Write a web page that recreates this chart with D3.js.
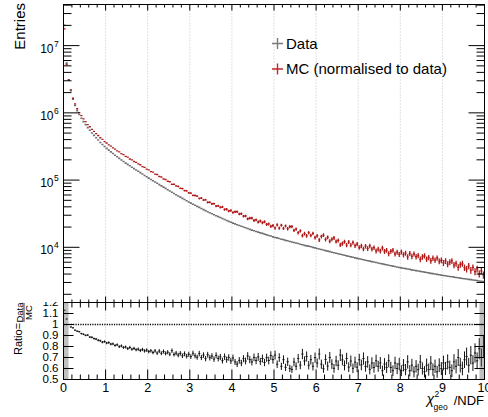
<!DOCTYPE html>
<html>
<head>
<meta charset="utf-8">
<script src="https://cdn.jsdelivr.net/npm/d3@7/dist/d3.min.js"></script>
<style>
body { margin: 0; background: #fff; }
svg { display: block; font-family: "Liberation Sans", Arial, Helvetica, sans-serif; }
</style>
</head>
<body>
<div id="chart"></div>
<script>
// 200 bins of width 0.05 in chi2_geo/NDF
var binLo = 0, binHi = 10, nBins = 200;

var dataCounts = [
2.00e7, 5.50e6, 3.09e6, 2.14e6, 1.60e6, 1.29e6, 1.08e6, 9.44e5, 8.32e5, 7.41e5,
6.68e5, 6.03e5, 5.50e5, 5.01e5, 4.62e5, 4.27e5, 3.94e5, 3.63e5, 3.39e5, 3.16e5,
2.96e5, 2.79e5, 2.63e5, 2.48e5, 2.34e5, 2.22e5, 2.10e5, 1.99e5, 1.89e5, 1.79e5,
1.71e5, 1.63e5, 1.55e5, 1.48e5, 1.41e5, 1.35e5, 1.29e5, 1.23e5, 1.17e5, 1.12e5,
1.07e5, 1.02e5, 9.77e4, 9.35e4, 8.95e4, 8.57e4, 8.20e4, 7.85e4, 7.52e4, 7.19e4,
6.89e4, 6.59e4, 6.31e4, 6.05e4, 5.81e4, 5.57e4, 5.35e4, 5.13e4, 4.92e4, 4.72e4,
4.54e4, 4.38e4, 4.22e4, 4.06e4, 3.92e4, 3.78e4, 3.64e4, 3.51e4, 3.38e4, 3.26e4,
3.15e4, 3.05e4, 2.95e4, 2.86e4, 2.77e4, 2.68e4, 2.59e4, 2.51e4, 2.43e4, 2.36e4,
2.29e4, 2.23e4, 2.17e4, 2.11e4, 2.06e4, 2.00e4, 1.95e4, 1.90e4, 1.85e4, 1.80e4,
1.76e4, 1.72e4, 1.68e4, 1.64e4, 1.61e4, 1.57e4, 1.53e4, 1.50e4, 1.47e4, 1.43e4,
1.40e4, 1.38e4, 1.35e4, 1.32e4, 1.30e4, 1.27e4, 1.25e4, 1.22e4, 1.20e4, 1.18e4,
1.16e4, 1.14e4, 1.11e4, 1.09e4, 1.07e4, 1.05e4, 1.04e4, 1.02e4, 9980, 9790,
9620, 9440, 9270, 9100, 8930, 8770, 8610, 8450, 8300, 8150,
8000, 7870, 7730, 7600, 7460, 7350, 7210, 7100, 6970, 6850,
6750, 6640, 6530, 6430, 6320, 6220, 6120, 6030, 5930, 5830,
5740, 5660, 5570, 5500, 5410, 5330, 5250, 5180, 5090, 5020,
4950, 4890, 4820, 4750, 4690, 4620, 4560, 4500, 4440, 4380,
4320, 4270, 4210, 4160, 4100, 4060, 4000, 3950, 3900, 3850,
3810, 3770, 3720, 3680, 3640, 3600, 3560, 3520, 3480, 3440,
3400, 3370, 3330, 3300, 3260, 3230, 3190, 3160, 3130, 3100
];

var mcCounts = [
1.77e7, 5.24e6, 3.09e6, 2.19e6, 1.65e6, 1.36e6, 1.15e6, 1.01e6, 9.07e5, 8.13e5,
7.41e5, 6.67e5, 6.21e5, 5.67e5, 5.30e5, 4.92e5, 4.60e5, 4.26e5, 4.04e5, 3.74e5,
3.56e5, 3.34e5, 3.20e5, 3.01e5, 2.89e5, 2.72e5, 2.63e5, 2.47e5, 2.39e5, 2.25e5,
2.19e5, 2.06e5, 2.00e5, 1.89e5, 1.83e5, 1.74e5, 1.69e5, 1.59e5, 1.54e5, 1.46e5,
1.42e5, 1.34e5, 1.31e5, 1.23e5, 1.21e5, 1.13e5, 1.11e5, 1.04e5, 1.02e5, 9.61e4,
9.44e4, 8.65e4, 8.67e4, 8.18e4, 8.05e4, 7.55e4, 7.48e4, 6.99e4, 6.91e4, 6.47e4,
6.41e4, 5.93e4, 5.90e4, 5.78e4, 5.33e4, 5.40e4, 5.04e4, 5.09e4, 4.66e4, 4.67e4,
4.42e4, 4.45e4, 4.10e4, 4.14e4, 3.93e4, 3.99e4, 3.66e4, 3.69e4, 3.47e4, 3.53e4,
3.29e4, 3.38e4, 3.39e4, 3.13e4, 3.17e4, 2.90e4, 2.92e4, 2.66e4, 2.72e4, 2.73e4,
2.51e4, 2.56e4, 2.38e4, 2.47e4, 2.33e4, 2.40e4, 2.19e4, 2.23e4, 2.05e4, 2.10e4,
1.94e4, 2.16e4, 1.93e4, 2.13e4, 1.91e4, 2.08e4, 1.89e4, 2.03e4, 2.03e4, 1.79e4,
1.87e4, 1.65e4, 1.76e4, 1.49e4, 1.60e4, 1.48e4, 1.65e4, 1.50e4, 1.61e4, 1.40e4,
1.48e4, 1.29e4, 1.45e4, 1.52e4, 1.31e4, 1.41e4, 1.23e4, 1.32e4, 1.38e4, 1.22e4,
1.27e4, 1.09e4, 1.14e4, 1.21e4, 1.08e4, 1.20e4, 1.08e4, 1.18e4, 1.06e4, 1.12e4,
9930, 1.05e4, 9460, 1.04e4, 9580, 1.05e4, 9420, 9890, 8850, 9400,
8830, 9760, 8700, 9020, 8070, 8740, 9050, 7970, 8480, 7840,
8530, 7760, 8170, 7200, 8090, 7330, 8000, 7260, 7530, 6640,
7200, 7490, 6680, 7050, 6310, 6880, 6450, 6930, 6190, 6420,
5860, 6280, 5640, 6030, 6280, 5450, 5740, 5030, 5520, 5730,
5000, 4750, 5290, 4580, 5020, 4360, 4760, 4050, 4470, 3880
];

var mcWeight = 60; // MC normalisation weight, used for the MC errors

var xTicks = [0, 1, 2, 3, 4, 5, 6, 7, 8, 9, 10];
var yDecades = [4, 5, 6, 7];
var ratioTicks = [0.5, 0.6, 0.7, 0.8, 0.9, 1.0, 1.1, 1.2];
var ratioLabels = ["0.5", "0.6", "0.7", "0.8", "0.9", "1", "1.1", "1.2"];
var legendLabels = ["Data", "MC (normalised to data)"];

var dataColor = "#707070", mcColor = "#b01818";

var svg = d3.select("#chart").append("svg")
    .attr("width", 488).attr("height", 417);
svg.append("rect").attr("width", 488).attr("height", 417).attr("fill", "#fff");

var x = d3.scaleLinear().domain([binLo, binHi]).range([63.5, 484.5]);
var y = d3.scaleLog().domain([1510, 4.09e7]).range([302.5, 4.5]);
var yr = d3.scaleLinear().domain([0.5, 1.2]).range([379.5, 302.5]);

var bw = (binHi - binLo) / nBins;
var bins = dataCounts.map(function(d, i) {
    var m = mcCounts[i], r = d / m;
    return {
        lo: binLo + i * bw, hi: binLo + (i + 1) * bw, c: binLo + (i + 0.5) * bw,
        d: d, dErr: Math.sqrt(d),
        m: m, mErr: Math.sqrt(m * mcWeight),
        r: r, rErr: r * Math.sqrt(1 / d + mcWeight / m)
    };
});

function binPath(val, err, sy) {
    return bins.map(function(b) {
        var v = val(b), e = err(b);
        return "M" + x(b.lo) + "," + sy(v) + "H" + x(b.hi) +
               "M" + x(b.c) + "," + sy(v + e) + "V" + sy(v - e);
    }).join("");
}

var defs = svg.append("defs");
defs.append("clipPath").attr("id", "clipTop").append("rect")
    .attr("x", 63.5).attr("y", 4.5).attr("width", 421).attr("height", 298);
defs.append("clipPath").attr("id", "clipRatio").append("rect")
    .attr("x", 63.5).attr("y", 302.5).attr("width", 421).attr("height", 77);

// ---------- ratio pad ----------
var gridX = xTicks.slice(1, -1);
svg.append("g").selectAll("line").data(gridX).enter().append("line")
    .attr("x1", d => x(d)).attr("x2", d => x(d))
    .attr("y1", 302.5).attr("y2", 379.5)
    .attr("stroke", "#c4c4c4").attr("stroke-dasharray", "1,2");

svg.append("line")
    .attr("x1", x(binLo)).attr("x2", x(binHi))
    .attr("y1", yr(1)).attr("y2", yr(1))
    .attr("stroke", "#000").attr("stroke-width", 1.4).attr("stroke-dasharray", "1.2,1.2");

svg.append("path")
    .attr("clip-path", "url(#clipRatio)")
    .attr("d", binPath(b => b.r, b => b.rErr, yr))
    .attr("fill", "none").attr("stroke", "#111").attr("stroke-width", 1);

function tidy(g) {
    g.select(".domain").remove();
    g.selectAll(".tick line").attr("stroke", "#000");
    g.attr("font-family", null).attr("font-size", null);
}
function thin(g) {
    g.selectAll(".tick line").attr("stroke", "#555").attr("stroke-width", 0.45);
}

var xMinor = d3.range(1, 50).map(k => k / 5).filter(v => Math.abs(v - Math.round(v)) > 1e-6);
var rMinor = d3.range(50, 121).filter(k => k % 10 !== 0).map(k => k / 100);

svg.append("g").attr("transform", "translate(0,379.5)")
    .call(d3.axisBottom(x).tickValues(xTicks).tickSize(-10).tickPadding(4).offset(0)
        .tickFormat(d3.format("d")))
    .call(tidy)
    .selectAll("text").attr("font-size", 12.5).attr("fill", "#000");
svg.append("g").attr("transform", "translate(0,379.5)")
    .call(d3.axisBottom(x).tickValues(xMinor).tickSize(-5).tickFormat("").offset(0)).call(tidy);
svg.append("g").attr("transform", "translate(0,302.5)")
    .call(d3.axisTop(x).tickValues(xTicks).tickSize(-8).tickFormat("").offset(0)).call(tidy);
svg.append("g").attr("transform", "translate(0,302.5)")
    .call(d3.axisTop(x).tickValues(xMinor).tickSize(-5).tickFormat("").offset(0)).call(tidy);

svg.append("g").attr("transform", "translate(63.5,0)")
    .call(d3.axisLeft(yr).tickValues(ratioTicks).tickSize(-10).tickPadding(5).offset(0)
        .tickFormat((d, i) => ratioLabels[i]))
    .call(tidy)
    .selectAll("text").attr("font-size", 11.5).attr("fill", "#000");
svg.append("g").attr("transform", "translate(63.5,0)")
    .call(d3.axisLeft(yr).tickValues(rMinor).tickSize(-5).tickFormat("").offset(0))
    .call(tidy).call(thin);
svg.append("g").attr("transform", "translate(484.5,0)")
    .call(d3.axisRight(yr).tickValues(ratioTicks).tickSize(-10).tickFormat("").offset(0)).call(tidy);
svg.append("g").attr("transform", "translate(484.5,0)")
    .call(d3.axisRight(yr).tickValues(rMinor).tickSize(-5).tickFormat("").offset(0))
    .call(tidy).call(thin);

svg.append("rect")
    .attr("x", 63.5).attr("y", 302.5).attr("width", 421).attr("height", 77)
    .attr("fill", "none").attr("stroke", "#000");

// hide the upper half of the "1.2" label, as the top pad covers it
svg.append("rect").attr("x", 0).attr("y", 290).attr("width", 63).attr("height", 12)
    .attr("fill", "#fff");

// ---------- top pad ----------
svg.append("g").selectAll("line").data(gridX).enter().append("line")
    .attr("x1", d => x(d)).attr("x2", d => x(d))
    .attr("y1", 4.5).attr("y2", 302.5)
    .attr("stroke", "#c4c4c4").attr("stroke-dasharray", "1,2");

var topPad = svg.append("g").attr("clip-path", "url(#clipTop)");
topPad.append("path")
    .attr("d", binPath(b => b.d, b => b.dErr, y))
    .attr("fill", "none").attr("stroke", dataColor).attr("stroke-width", 1.6);
topPad.append("path")
    .attr("d", binPath(b => b.m, b => b.mErr, y))
    .attr("fill", "none").attr("stroke", mcColor).attr("stroke-width", 1.3);

var yMajor = yDecades.map(n => Math.pow(10, n));
var yMinor = [];
d3.range(3, 8).forEach(function(n) {
    d3.range(2, 10).forEach(function(k) {
        var v = k * Math.pow(10, n);
        if (v > y.domain()[0] && v < y.domain()[1]) yMinor.push(v);
    });
});

svg.append("g").attr("transform", "translate(63.5,0)")
    .call(d3.axisLeft(y).tickValues(yMajor).tickSize(-16).tickFormat("").offset(0)).call(tidy);
svg.append("g").attr("transform", "translate(63.5,0)")
    .call(d3.axisLeft(y).tickValues(yMinor).tickSize(-8).tickFormat("").offset(0)).call(tidy);
svg.append("g").attr("transform", "translate(484.5,0)")
    .call(d3.axisRight(y).tickValues(yMajor).tickSize(-16).tickFormat("").offset(0)).call(tidy);
svg.append("g").attr("transform", "translate(484.5,0)")
    .call(d3.axisRight(y).tickValues(yMinor).tickSize(-8).tickFormat("").offset(0)).call(tidy);

svg.append("g").attr("transform", "translate(0,302.5)")
    .call(d3.axisBottom(x).tickValues(xTicks).tickSize(-6).tickFormat("").offset(0)).call(tidy);
svg.append("g").attr("transform", "translate(0,302.5)")
    .call(d3.axisBottom(x).tickValues(xMinor).tickSize(-3).tickFormat("").offset(0)).call(tidy);
svg.append("g").attr("transform", "translate(0,4.5)")
    .call(d3.axisTop(x).tickValues(xTicks).tickSize(-6).tickFormat("").offset(0)).call(tidy);
svg.append("g").attr("transform", "translate(0,4.5)")
    .call(d3.axisTop(x).tickValues(xMinor).tickSize(-3).tickFormat("").offset(0)).call(tidy);

// log labels 10^n
var decLab = svg.append("g").selectAll("g").data(yDecades).enter().append("g");
decLab.append("text")
    .attr("x", 53.5).attr("y", d => y(Math.pow(10, d)) + 7)
    .attr("text-anchor", "end").attr("font-size", 12).text("10");
decLab.append("text")
    .attr("x", 54).attr("y", d => y(Math.pow(10, d)) + 1)
    .attr("font-size", 8.5).text(d => d);

svg.append("rect")
    .attr("x", 63.5).attr("y", 4.5).attr("width", 421).attr("height", 298)
    .attr("fill", "none").attr("stroke", "#000");

// legend
var leg = svg.append("g").selectAll("g").data(legendLabels).enter().append("g")
    .attr("transform", (d, i) => "translate(277.5," + (43.5 + i * 25.5) + ")");
leg.append("path")
    .attr("d", "M-5.5,0H5.5M0,-5.5V5.5")
    .attr("stroke", (d, i) => i === 0 ? "#7a7a7a" : "#c0262a").attr("stroke-width", 1.4);
leg.append("text")
    .attr("x", 8.5).attr("y", 5.2)
    .attr("font-size", 15).text(d => d);

// axis titles
svg.append("text")
    .attr("transform", "translate(25,3) rotate(-90)")
    .attr("text-anchor", "end").attr("font-size", 15).text("Entries");

var rt = svg.append("g").attr("transform", "rotate(-90)");
rt.append("text").attr("x", -355).attr("y", 22).attr("font-size", 11).text("Ratio=");
rt.append("text").attr("x", -312.5).attr("y", 22.5).attr("text-anchor", "middle")
    .attr("font-size", 9.5).text("Data");
rt.append("line").attr("x1", -322).attr("x2", -303).attr("y1", 24).attr("y2", 24)
    .attr("stroke", "#000").attr("stroke-width", 0.8);
rt.append("text").attr("x", -312.5).attr("y", 31.5).attr("text-anchor", "middle")
    .attr("font-size", 9.5).text("MC");

var xt = svg.append("g");
xt.append("text").attr("x", 426.5).attr("y", 404).attr("font-size", 14)
    .attr("font-style", "italic").text("\u03c7");
xt.append("text").attr("x", 434.5).attr("y", 397).attr("font-size", 8.5).text("2");
xt.append("text").attr("x", 433.5).attr("y", 410).attr("font-size", 8.5).text("geo");
xt.append("text").attr("x", 484).attr("y", 405).attr("text-anchor", "end")
    .attr("font-size", 13).text("/NDF");
</script>
</body>
</html>
